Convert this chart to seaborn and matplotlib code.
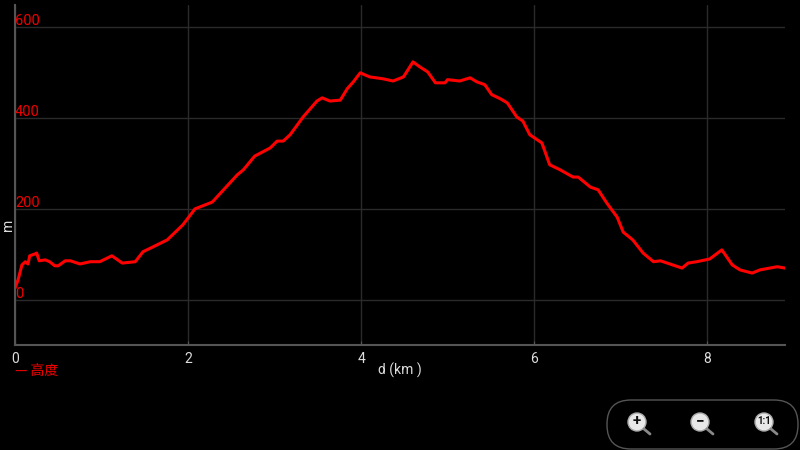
import numpy as np
import pandas as pd
import matplotlib
matplotlib.use("Agg")
import matplotlib.pyplot as plt
from matplotlib.patches import FancyBboxPatch, Circle
from matplotlib.lines import Line2D
import matplotlib.transforms as mtransforms
import seaborn as sns

# ---- data (distance km, altitude m) ----
dist_km = [0.00, 0.035, 0.08, 0.12, 0.15, 0.17, 0.23, 0.25, 0.28, 0.35, 0.40, 0.46, 0.50,
           0.58, 0.64, 0.75, 0.87, 0.98, 1.12, 1.24, 1.39, 1.48, 1.60, 1.76, 1.94, 2.08,
           2.20, 2.28, 2.57, 2.64, 2.77, 2.95, 3.03, 3.10, 3.18, 3.33, 3.49, 3.55, 3.64,
           3.76, 3.84, 3.91, 3.99, 4.10, 4.25, 4.37, 4.49, 4.60, 4.68, 4.77, 4.86, 4.97,
           5.00, 5.14, 5.26, 5.34, 5.43, 5.51, 5.61, 5.69, 5.80, 5.87, 5.95, 6.09, 6.18,
           6.30, 6.45, 6.51, 6.65, 6.74, 6.84, 6.96, 7.03, 7.14, 7.26, 7.38, 7.46, 7.57,
           7.71, 7.78, 7.88, 8.03, 8.17, 8.29, 8.38, 8.52, 8.61, 8.81, 8.90]
altitude_m = [26, 44, 77, 84, 79, 97, 101, 103, 86, 88, 84, 75, 75,
              86, 86, 79, 84, 84, 97, 81, 84, 106, 117, 132, 165, 200,
              209, 215, 275, 286, 316, 334, 349, 349, 363, 402, 437, 444, 437,
              439, 464, 479, 499, 490, 486, 481, 490, 523, 512, 501, 477, 477,
              484, 481, 488, 479, 473, 451, 442, 433, 402, 393, 363, 345, 297,
              286, 270, 270, 248, 242, 213, 182, 149, 132, 103, 84, 86, 79,
              70, 81, 84, 90, 110, 77, 66, 59, 66, 73, 70]
x_ticks = [0, 2, 4, 6, 8]
y_ticks = [0, 200, 400, 600]
x_label = "d (km )"
y_label = "m"
series_name = "高度"

df = pd.DataFrame({"d": dist_km, "alt": altitude_m})

sns.set_style("dark")
plt.rcParams["font.family"] = ["Roboto", "Noto Sans CJK SC", "DejaVu Sans"]

fig = plt.figure(figsize=(8, 4.5), dpi=100, facecolor="black")
ax = fig.add_axes([15/800, 1-345/450, 770/800, 340/450])
ax.set_facecolor("black")

sns.lineplot(data=df, x="d", y="alt", ax=ax, color="#ff0000", linewidth=2.2, legend=False)

ax.set_xlim(0, 8.9)
ax.set_ylim(-99, 648)
ax.set_xticks(x_ticks)
ax.set_yticks(y_ticks)
ax.set_yticklabels([])
ax.grid(True, color="#2a2a2a", linewidth=1)
for s in ["top", "right"]:
    ax.spines[s].set_visible(False)
for s in ["left", "bottom"]:
    ax.spines[s].set_visible(True)
    ax.spines[s].set_color("#555555")
    ax.spines[s].set_linewidth(1.5)
ax.tick_params(axis="x", colors="#555555", labelcolor="#dddddd", direction="in",
               length=3, labelsize=10, pad=5, bottom=True)
ax.tick_params(axis="y", length=0, left=False)
ax.set_xlabel("")
ax.set_ylabel("")

# y tick labels inside the plot, red
for v in y_ticks:
    ax.text(0.0, v, str(v), color="#ee0000", fontsize=10.5, ha="left", va="bottom",
            transform=mtransforms.offset_copy(ax.transData, fig=fig, x=0, y=-1, units="points"))

fig.text(400/800, 1-370/450, x_label, color="#dddddd", fontsize=10, ha="center", va="center")
fig.text(8/800, 1-225/450, y_label, color="#dddddd", fontsize=10, ha="center", va="center",
         rotation=90)
fig.text(15/800, 1-371/450, "— " + series_name, color="#ee0000", fontsize=10,
         ha="left", va="center", family=["Noto Sans CJK SC", "DejaVu Sans"])

# zoom controls decoration
W, H = 800, 450
box = FancyBboxPatch((607/W, 1-449/H), 191/W, 49/H,
                     boxstyle="round,pad=0,rounding_size=0.03",
                     transform=fig.transFigure, facecolor="black", edgecolor="#555555",
                     linewidth=1, mutation_aspect=W/H)
fig.add_artist(box)
ident = mtransforms.IdentityTransform()
for cx, glyph in [(637, "+"), (700, "−"), (764, "1:1")]:
    fig.add_artist(Line2D([cx+7, cx+13], [H-429, H-434], transform=ident,
                          color="#888888", linewidth=2))
    c = Circle((cx, H-422), 9, transform=ident,
               facecolor="#e8e8e8", edgecolor="#aaaaaa", linewidth=1)
    fig.add_artist(c)
    fig.text(cx/W, 1-421/H, glyph, color="#111111", fontsize=11 if glyph != "1:1" else 7,
             fontweight="bold", ha="center", va="center")

fig.savefig("out.png", dpi=100, facecolor="black")
